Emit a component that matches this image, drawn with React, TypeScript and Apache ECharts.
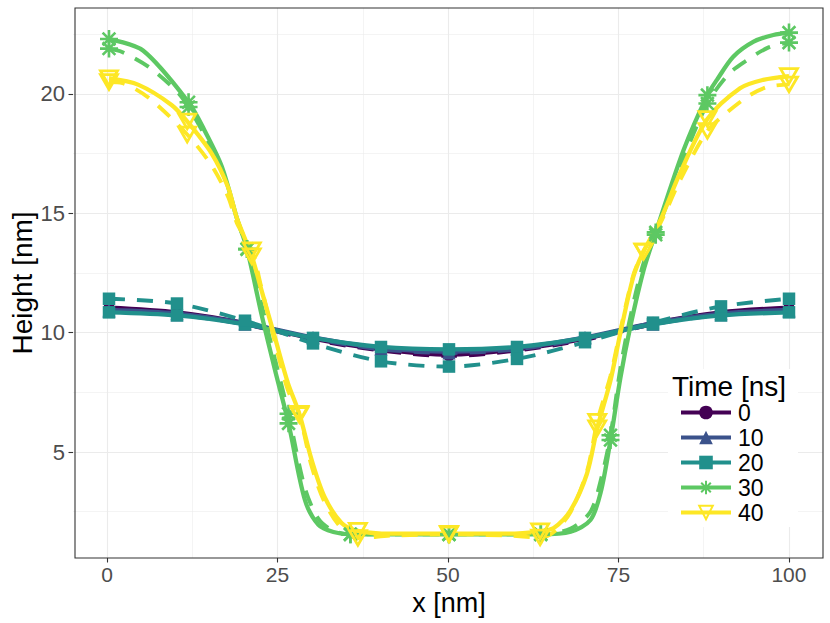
import React, { useEffect, useRef } from 'react';
import * as echarts from 'echarts';

// ---------- data ----------
const timeLabels = ['0', '10', '20', '30', '40'];
const colors = ['#440154', '#3B528B', '#21908C', '#5DC863', '#FDE725'];

// t = 0, 10, 20 ns: sampled every 10 nm
const xTen = [0, 10, 20, 30, 40, 50, 60, 70, 80, 90, 100];
const fit0 = [11.05, 10.85, 10.4, 9.75, 9.3, 9.08, 9.3, 9.75, 10.4, 10.85, 11.05];
const obs0 = [11.0, 10.8, 10.35, 9.7, 9.25, 9.02, 9.25, 9.7, 10.35, 10.8, 11.0];
const fit10 = [10.95, 10.8, 10.4, 9.8, 9.35, 9.2, 9.35, 9.8, 10.4, 10.8, 10.95];
const obs10 = [10.9, 10.75, 10.35, 9.75, 9.3, 9.15, 9.3, 9.75, 10.35, 10.75, 10.9];
const fit20 = [10.85, 10.72, 10.35, 9.78, 9.4, 9.3, 9.4, 9.78, 10.35, 10.72, 10.85];
const obs20 = [11.42, 11.22, 10.5, 9.55, 8.8, 8.58, 8.9, 9.6, 10.42, 11.1, 11.42];

// t = 30 ns
const x30fit = [0, 5, 11.7, 14, 16.6, 18.8, 20.3, 22.4, 24.4, 26.4, 28.8, 30.8, 33, 35.5, 43, 50, 57, 63.5, 67.9, 70.8, 72.3, 73.75, 75.2, 76.7, 78.6, 80.4, 84.5, 88, 89.4, 91.8, 94.8, 97.7, 100];
const fit30 = [22.3, 21.82, 19.65, 18.5, 16.95, 14.8, 13.5, 10.8, 8.45, 6.2, 3.0, 1.95, 1.65, 1.55, 1.55, 1.55, 1.55, 1.55, 1.66, 2.15, 3.3, 5.5, 8.1, 10.3, 12.6, 14.2, 17.65, 19.95, 20.59, 21.56, 22.19, 22.47, 22.57];
const x30obs = [0, 2, 6, 10, 11.7, 14, 16.6, 18.8, 20.3, 22.4, 24.4, 26.4, 28.8, 30.8, 33, 35.5, 43, 50, 57, 63.5, 67.9, 70.8, 72.3, 73.75, 75.2, 76.7, 78.6, 80.4, 84.5, 88, 91, 93.5, 97, 100];
const obs30 = [21.9, 21.75, 21.1, 20.1, 19.45, 18.3, 16.8, 14.8, 13.5, 11.2, 8.9, 6.6, 3.5, 2.2, 1.7, 1.55, 1.55, 1.55, 1.55, 1.55, 1.8, 2.5, 3.8, 5.7, 8.5, 10.7, 12.9, 14.1, 17.3, 19.6, 20.8, 21.35, 21.95, 22.15];
const marks30 = [0, 11.7, 20.3, 26.4, 35.5, 50, 63.5, 73.75, 80.4, 88, 100];

// t = 40 ns
const x40fit = [0, 4.35, 9.2, 11.5, 15.1, 17.5, 18.8, 21, 22.4, 24.4, 26.3, 28, 29.8, 31.7, 34.2, 36.6, 41.5, 50, 58.5, 63.4, 65.4, 67.9, 70.3, 71.8, 73.75, 75.2, 77.1, 78.6, 81.1, 84, 88, 92.8, 96.2, 100];
const fit40 = [20.66, 20.38, 19.54, 18.85, 17.5, 16.1, 14.8, 13.2, 11.8, 9.8, 7.9, 6.6, 4.67, 3.12, 2.03, 1.7, 1.58, 1.58, 1.58, 1.68, 1.82, 2.57, 4.1, 6.0, 8.0, 9.98, 12.33, 13.4, 14.72, 16.7, 18.95, 20.24, 20.59, 20.75];
const x40obs = [0, 2, 6, 11.5, 15.1, 17.5, 18.8, 21, 22.4, 24.4, 26.3, 28, 29.8, 31.7, 34.2, 36.6, 41.5, 50, 58.5, 63.4, 65.4, 67.9, 70.3, 71.8, 73.75, 75.2, 77.1, 78.6, 81.1, 84, 88, 91, 94.3, 96.9, 100];
const obs40 = [20.5, 20.45, 19.8, 18.3, 17.0, 15.7, 14.6, 13.45, 11.9, 9.6, 7.6, 6.55, 4.4, 2.9, 1.8, 1.4, 1.5, 1.55, 1.5, 1.42, 1.65, 2.5, 4.2, 6.27, 8.2, 10.1, 12.4, 13.4, 14.6, 16.4, 18.45, 19.25, 19.96, 20.3, 20.4];
const marks40 = [0, 11.5, 21, 28, 36.6, 50, 63.4, 71.8, 78.6, 88, 100];

const xMajorTicks = [0, 25, 50, 75, 100];
const yMajorTicks = [5, 10, 15, 20];

// ---------- layout ----------
const W = 830;
const H = 623;
const PL = 73, PR = 823, PT = 8, PB = 558;
const XMIN = -5, XMAX = 105;
const YMIN = 0.56, YMAX = 23.6;
const FONT = 'Liberation Sans';

const px = (v: number) => PL + ((v - XMIN) / (XMAX - XMIN)) * (PR - PL);
const py = (v: number) => PT + ((YMAX - v) / (YMAX - YMIN)) * (PB - PT);

const ASTERISK = 'path://M10,0L10,20M0,10L20,10M2.93,2.93L17.07,17.07M2.93,17.07L17.07,2.93';
const TRI_DOWN = 'path://M0,0L20,0L10,17.3Z';

const symbols = [
  { symbol: 'circle', size: 11, itemStyle: { color: colors[0] } },
  { symbol: 'triangle', size: 13, itemStyle: { color: colors[1] } },
  { symbol: 'rect', size: 12.5, itemStyle: { color: colors[2] } },
  { symbol: ASTERISK, size: 18, itemStyle: { color: colors[3], borderColor: colors[3], borderWidth: 2.6 } },
  { symbol: TRI_DOWN, size: 17, itemStyle: { color: 'rgba(0,0,0,0)', borderColor: colors[4], borderWidth: 2.8 } },
];

const groups = [
  { fx: xTen, fy: fit0, ox: xTen, oy: obs0, marks: xTen },
  { fx: xTen, fy: fit10, ox: xTen, oy: obs10, marks: xTen },
  { fx: xTen, fy: fit20, ox: xTen, oy: obs20, marks: xTen },
  { fx: x30fit, fy: fit30, ox: x30obs, oy: obs30, marks: marks30 },
  { fx: x40fit, fy: fit40, ox: x40obs, oy: obs40, marks: marks40 },
];

function pts(xs: number[], ys: number[], marks: number[]) {
  return xs.map((x, i) =>
    marks.indexOf(x) >= 0 ? [x, ys[i]] : { value: [x, ys[i]], symbol: 'none' }
  );
}

function buildOption() {
  const series: any[] = [];
  groups.forEach((g, i) => {
    const s = symbols[i];
    const common = {
      type: 'line',
      xAxisIndex: 0,
      yAxisIndex: 0,
      smooth: 0.3,
      symbol: s.symbol,
      symbolSize: s.size,
      symbolKeepAspect: true,
      itemStyle: s.itemStyle,
      silent: true,
      emphasis: { disabled: true },
      z: 2,
    };
    series.push({
      ...common,
      name: timeLabels[i],
      data: pts(g.fx, g.fy, g.marks),
      lineStyle: { color: colors[i], width: 4.3, type: 'solid', cap: 'butt' },
    });
    series.push({
      ...common,
      name: timeLabels[i] + ' dashed',
      data: pts(g.ox, g.oy, g.marks),
      lineStyle: { color: colors[i], width: 3.9, type: [16, 12], cap: 'butt' },
    });
  });

  const hidden = { show: false };
  const gridLine = (w: number) => ({ show: true, lineStyle: { color: '#EBEBEB', width: w } });

  return {
    animation: false,
    backgroundColor: '#ffffff',
    textStyle: { fontFamily: FONT },
    grid: [
      { left: PL, right: W - PR, top: PT, bottom: H - PB, show: true, borderColor: '#333333', borderWidth: 1.1, backgroundColor: 'transparent', z: 1 },
      { left: px(0), right: W - px(100), top: PT, bottom: H - PB },
      { left: px(12.5), right: W - px(87.5), top: PT, bottom: H - PB },
      { left: PL, right: W - PR, top: py(22.5), bottom: H - py(2.5) },
      { left: PL, right: W - PR, top: py(20), bottom: H - py(5) },
    ],
    xAxis: [
      {
        gridIndex: 0, type: 'value', min: XMIN, max: XMAX,
        axisLine: hidden, axisTick: hidden, axisLabel: hidden, splitLine: hidden,
        name: 'x [nm]', nameLocation: 'middle', nameGap: 31,
        nameTextStyle: { fontSize: 27, color: '#000000', fontFamily: FONT },
      },
      {
        gridIndex: 1, type: 'value', min: xMajorTicks[0], max: xMajorTicks[xMajorTicks.length - 1], interval: 25,
        axisLine: hidden,
        axisTick: { show: true, length: 4.5, lineStyle: { color: '#333333', width: 1.1 } },
        axisLabel: { show: true, fontSize: 21, color: '#4D4D4D', margin: 6, fontFamily: FONT },
        splitLine: gridLine(1.1),
      },
      {
        gridIndex: 2, type: 'value', min: 12.5, max: 87.5, interval: 25,
        axisLine: hidden, axisTick: hidden, axisLabel: hidden, splitLine: gridLine(0.55),
      },
      { gridIndex: 3, type: 'value', show: false },
      { gridIndex: 4, type: 'value', show: false },
    ],
    yAxis: [
      {
        gridIndex: 0, type: 'value', min: YMIN, max: YMAX,
        axisLine: hidden, axisTick: hidden, axisLabel: hidden, splitLine: hidden,
        name: 'Height [nm]', nameLocation: 'middle', nameGap: 39,
        nameTextStyle: { fontSize: 28, color: '#000000', fontFamily: FONT },
      },
      { gridIndex: 1, type: 'value', show: false },
      { gridIndex: 2, type: 'value', show: false },
      {
        gridIndex: 3, type: 'value', min: 2.5, max: 22.5, interval: 5,
        axisLine: hidden, axisTick: hidden, axisLabel: hidden, splitLine: gridLine(0.55),
      },
      {
        gridIndex: 4, type: 'value', min: yMajorTicks[0], max: yMajorTicks[yMajorTicks.length - 1], interval: 5,
        axisLine: hidden,
        axisTick: { show: true, length: 4.5, lineStyle: { color: '#333333', width: 1.1 } },
        axisLabel: { show: true, fontSize: 22, color: '#4D4D4D', margin: 8, fontFamily: FONT },
        splitLine: gridLine(1.1),
      },
    ],
    legend: {
      data: timeLabels,
      orient: 'vertical',
      left: 679,
      top: 401,
      padding: 0,
      itemWidth: 50,
      itemHeight: 17,
      itemGap: 2,
      selectedMode: false,
      textStyle: { fontSize: 23, color: '#000000', fontFamily: FONT, padding: [0, 0, 0, 2] },
      lineStyle: { width: 4 },
      z: 6,
    },
    graphic: [
      { type: 'rect', z: 4, shape: { x: 668, y: 369, width: 130, height: 158 }, style: { fill: '#ffffff' }, silent: true },
      { type: 'text', z: 7, x: 672, y: 386, style: { text: 'Time [ns]', fontSize: 28, fontFamily: FONT, fill: '#000000', verticalAlign: 'middle', align: 'left' }, silent: true },
    ],
    series,
  };
}

export default function App() {
  const ref = useRef<HTMLDivElement>(null);
  useEffect(() => {
    document.body.style.margin = '0';
    if (!ref.current) return;
    const chart = echarts.init(ref.current, undefined, { renderer: 'svg', width: W, height: H });
    chart.setOption(buildOption() as any);
    return () => chart.dispose();
  }, []);
  return <div ref={ref} style={{ position: 'fixed', left: 0, top: 0, width: W, height: H }} />;
}
